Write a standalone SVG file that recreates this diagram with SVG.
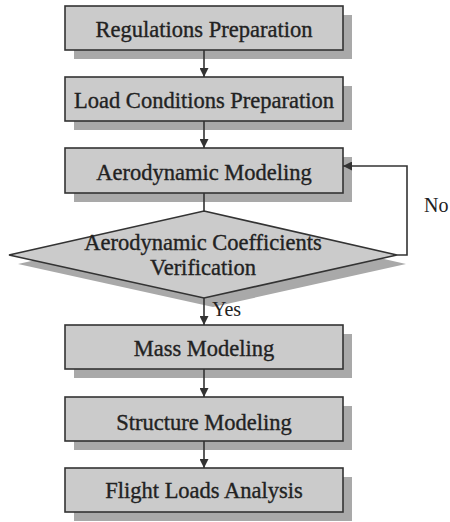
<svg xmlns="http://www.w3.org/2000/svg" width="450" height="522" viewBox="0 0 450 522">
<style>
.box{fill:#cbcbcb;stroke:#333;stroke-width:1.6}
.sh{fill:#a9a9a9}
.t{font-family:"Liberation Serif","Times New Roman",serif;font-size:22.5px;fill:#222;text-anchor:middle;stroke:#222;stroke-width:0.35}
.lbl{font-family:"Liberation Serif","Times New Roman",serif;font-size:20px;fill:#222}
.c{fill:none;stroke:#333;stroke-width:1.6}
</style>
<defs>
<marker id="ah" viewBox="0 0 10 10" refX="10" refY="5" markerWidth="9" markerHeight="9" markerUnits="userSpaceOnUse" orient="auto">
<path d="M0,0 L10,5 L0,10 Z" fill="#333"/>
</marker>
</defs>
<rect width="450" height="522" fill="#fff"/>
<g id="n1"><rect class="sh" x="74" y="15" width="278" height="44"/><rect class="box" x="65" y="6" width="278" height="44"/><text class="t" x="204" y="37">Regulations Preparation</text></g>
<g id="n2"><rect class="sh" x="74" y="86" width="278" height="44"/><rect class="box" x="65" y="77" width="278" height="44"/><text class="t" x="204" y="108">Load Conditions Preparation</text></g>
<g id="n3"><rect class="sh" x="74" y="157" width="278" height="45"/><rect class="box" x="65" y="148" width="278" height="45"/><text class="t" x="204" y="180">Aerodynamic Modeling</text></g>
<g id="n4"><polygon class="sh" points="213,220 406,264 213,307 18,264"/><polygon class="box" points="204,211 397,255 204,298 9,255"/><text class="t" x="203" y="250">Aerodynamic Coefficients</text><text class="t" x="203" y="275">Verification</text></g>
<g id="n5"><rect class="sh" x="74" y="334" width="278" height="44"/><rect class="box" x="65" y="325" width="278" height="44"/><text class="t" x="204" y="356">Mass Modeling</text></g>
<g id="n6"><rect class="sh" x="74" y="406" width="278" height="44"/><rect class="box" x="65" y="397" width="278" height="44"/><text class="t" x="204" y="430">Structure Modeling</text></g>
<g id="n7"><rect class="sh" x="74" y="477" width="278" height="44"/><rect class="box" x="65" y="468" width="278" height="44"/><text class="t" x="204" y="498">Flight Loads Analysis</text></g>
<g id="connectors">
<line class="c" x1="204" y1="50" x2="204" y2="77" marker-end="url(#ah)"/>
<line class="c" x1="204" y1="121" x2="204" y2="148" marker-end="url(#ah)"/>
<line class="c" x1="204" y1="193" x2="204" y2="211"/>
<polyline class="c" points="397,255 407,255 407,166 343,166" marker-end="url(#ah)"/>
<line class="c" x1="204" y1="298" x2="204" y2="325" marker-end="url(#ah)"/>
<line class="c" x1="204" y1="369" x2="204" y2="397" marker-end="url(#ah)"/>
<line class="c" x1="204" y1="441" x2="204" y2="468" marker-end="url(#ah)"/>
<text class="lbl" x="424" y="212">No</text>
<text class="lbl" x="212" y="316">Yes</text>
</g>
</svg>
